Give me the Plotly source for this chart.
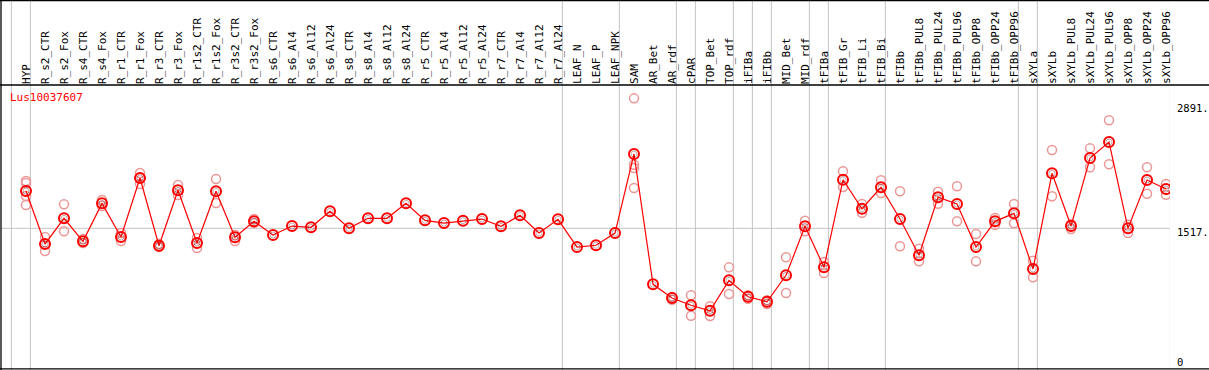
import plotly.graph_objects as go

categories = ["HYP", "R_s2_CTR", "R_s2_Fox", "R_s4_CTR", "R_s4_Fox", "R_r1_CTR", "R_r1_Fox",
              "R_r3_CTR", "R_r3_Fox", "R_r1s2_CTR", "R_r1s2_Fox", "R_r3s2_CTR", "R_r3s2_Fox",
              "R_s6_CTR", "R_s6_Al4", "R_s6_Al12", "R_s6_Al24", "R_s8_CTR", "R_s8_Al4", "R_s8_Al12",
              "R_s8_Al24", "R_r5_CTR", "R_r5_Al4", "R_r5_Al12", "R_r5_Al24", "R_r7_CTR", "R_r7_Al4",
              "R_r7_Al12", "R_r7_Al24", "LEAF_N", "LEAF_P", "LEAF_NPK", "SAM", "AR_Bet", "AR_rdf",
              "cPAR", "TOP_Bet", "TOP_rdf", "iFIBa", "iFIBb", "MID_Bet", "MID_rdf", "tFIBa",
              "tFIB_Gr", "tFIB_Li", "tFIB_Bi", "tFIBb", "tFIBb_PUL8", "tFIBb_PUL24", "tFIBb_PUL96",
              "tFIBb_OPP8", "tFIBb_OPP24", "tFIBb_OPP96", "sXYLa", "sXYLb", "sXYLb_PUL8",
              "sXYLb_PUL24", "sXYLb_PUL96", "sXYLb_OPP8", "sXYLb_OPP24", "sXYLb_OPP96"]

mean_values = [1928, 1344, 1627, 1374, 1792, 1421, 2071, 1325, 1936, 1355, 1925, 1418, 1594,
               1443, 1542, 1528, 1704, 1517, 1627, 1627, 1792, 1605, 1575, 1601, 1619, 1539,
               1660, 1465, 1616, 1311, 1330, 1465, 2336, 900, 749, 669, 609, 944, 763, 708,
               999, 1539, 1087, 2052, 1733, 1969, 1619, 1220, 1859, 1785, 1311, 1594, 1682,
               1069, 2123, 1542, 2292, 2468, 1517, 2049, 1950]

N = None
rep_a = [2038, 1421, 1781, 1399, 1829, 1465, 2126, 1344, 1994, 1410, 2060, 1443, 1619,
         N, N, N, N, N, N, N, N, N, N, N, N, N, N, N, N, N, N, N,
         2949, N, 760, 779, 658, 1087, 779, 724, 1198, 1601, 1146, 2145, 1785, 2046, 1925,
         1292, 1920, 1980, 1454, 1631, 1785, 1160, 2380, 1564, 2398, 2707, 1557, 2189, 2005]
rep_b = [2016, 1267, 1484, 1355, 1763, 1377, 2005, 1311, 1884, 1300, 1796, 1377, 1575,
         N, N, N, N, N, N, N, N, N, N, N, N, N, N, N, N, N, N, N,
         2218, N, 730, 554, 551, 793, 741, 683, 804, 1484, 1025, 1972, 1689, 1906, 1319,
         1153, 1788, 1594, 1153, 1557, 1572, 977, 1870, 1509, 2189, 2222, 1465, 1898, 1887]
rep_c = [1873, 1344, N, N, N, N, 2071, N, N, N, N, N, N,
         N, N, N, N, N, N, N, N, N, N, N, N, N, N, N, N, N, N, N,
         2181, N, N, N, N, N, N, N, N, N, N, N, N, N, N,
         N, N, N, N, N, N, N, N, N, N, N, N, N, N]
rep_d = [1774, N, N, N, N, N, N, N, N, N, N, N, N,
         N, N, N, N, N, N, N, N, N, N, N, N, N, N, N, N, N, N, N,
         1961, N, N, N, N, N, N, N, N, N, N, N, N, N, N,
         N, N, N, N, N, N, N, N, N, N, N, N, N, N]

# group separators drawn just after these category positions
separator_after = [-1, 0, 28, 31, 34, 35, 37, 38, 39, 41, 42, 45, 52, 53, 60]

tick_vals = [0, 1517, 2891]
tick_text = ["0", "1517.", "2891."]
tick_shift = [4, -4, -4]
gene_label = "Lus10037607"

x_idx = list(range(len(categories)))
MONO = "DejaVu Sans Mono"

fig = go.Figure()

for reps in (rep_a, rep_b, rep_c, rep_d):
    fig.add_trace(go.Scatter(
        x=x_idx, y=reps, mode="markers",
        marker=dict(symbol="circle-open", size=9, color="rgb(236,150,150)",
                    line=dict(width=1.5, color="rgb(236,150,150)")),
        hoverinfo="skip", showlegend=False))

fig.add_trace(go.Scatter(
    x=x_idx, y=mean_values, mode="lines+markers",
    line=dict(color="red", width=1.2),
    marker=dict(symbol="circle-open", size=10, color="red",
                line=dict(width=2, color="red")),
    showlegend=False))
fig.add_trace(go.Scatter(
    x=x_idx, y=mean_values, mode="markers",
    marker=dict(symbol="circle-open", size=6, color="rgba(60,0,0,0.45)",
                line=dict(width=0.7, color="rgba(60,0,0,0.45)")),
    hoverinfo="skip", showlegend=False))

W, H = 1209, 370
ML, MR, MT, MB = 1, 39, 85, 2
plot_h = H - MT - MB
plot_w = W - ML - MR
top_paper = 1 + MT / plot_h
bot_paper = -MB / plot_h

shapes = []
for s in separator_after:
    shapes.append(dict(type="line", xref="x", yref="paper", x0=s + 0.23, x1=s + 0.23,
                       y0=bot_paper, y1=top_paper, line=dict(color="#c4c4c4", width=1),
                       layer="below"))
# gridline at middle tick
shapes.append(dict(type="line", xref="paper", yref="y", x0=0, x1=1, y0=tick_vals[1], y1=tick_vals[1],
                   line=dict(color="#c4c4c4", width=1), layer="below"))
# borders
right_paper = (W - ML) / plot_w
left_paper = -ML / plot_w
shapes.append(dict(type="line", xref="paper", yref="paper", x0=left_paper, x1=right_paper,
                   y0=1, y1=1, line=dict(color="black", width=1.3)))
shapes.append(dict(type="line", xref="paper", yref="paper", x0=left_paper, x1=right_paper,
                   y0=top_paper - 0.5 / plot_h, y1=top_paper - 0.5 / plot_h,
                   line=dict(color="black", width=1.3)))
shapes.append(dict(type="line", xref="paper", yref="paper", x0=left_paper, x1=right_paper,
                   y0=bot_paper + 1.2 / plot_h, y1=bot_paper + 1.2 / plot_h,
                   line=dict(color="black", width=1.3)))
shapes.append(dict(type="line", xref="paper", yref="paper", x0=0, x1=0,
                   y0=bot_paper, y1=top_paper, line=dict(color="black", width=1.3)))

annotations = []
for v, t, sh in zip(tick_vals, tick_text, tick_shift):
    annotations.append(dict(xref="paper", yref="y", x=1, y=v, text=t, showarrow=False,
                            xanchor="left", yanchor="middle", yshift=sh, xshift=5,
                            font=dict(family=MONO, size=10.5, color="black")))
annotations.append(dict(xref="paper", yref="paper", x=0, y=1, text=gene_label, showarrow=False,
                        xanchor="left", yanchor="top", xshift=7, yshift=-4,
                        font=dict(family=MONO, size=11, color="red")))

fig.update_layout(
    template="none",
    width=W, height=H,
    margin=dict(l=ML, r=MR, t=MT, b=MB, pad=0),
    paper_bgcolor="white", plot_bgcolor="white",
    showlegend=False,
    shapes=shapes, annotations=annotations,
    xaxis=dict(side="top", range=[-1.316, 60.21], tickmode="array", tickvals=x_idx,
               ticktext=categories, tickangle=-90, ticks="", showgrid=False, zeroline=False,
               showline=False, automargin=False,
               tickfont=dict(family=MONO, size=11, color="black")),
    yaxis=dict(range=[-22, 3096], showticklabels=False, showgrid=False, zeroline=False,
               showline=False, ticks="", automargin=False),
)

fig.write_html("out.html", config={"displayModeBar": False},
               post_script="document.body.style.margin='0';document.body.style.overflow='hidden';")
